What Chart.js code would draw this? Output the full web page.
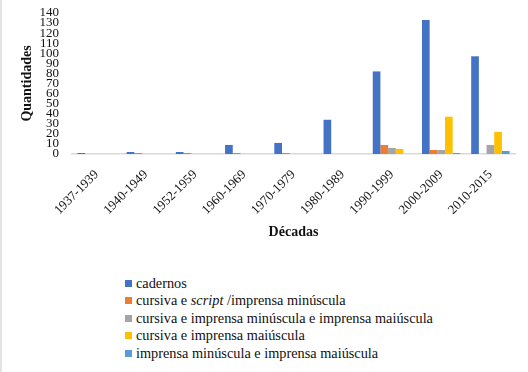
<!DOCTYPE html>
<html>
<head>
<meta charset="utf-8">
<script src="https://cdn.jsdelivr.net/npm/chart.js@4"></script>
<style>
  html, body { margin: 0; padding: 0; background: #fff; }
  #wrap { position: relative; width: 528px; height: 372px; border-left: 2px solid #e4e4e4; box-sizing: border-box; }
  #chartBox { position: absolute; left: 0; top: 0; width: 526px; height: 250px; }
  #legend { position: absolute; left: 123px; top: 275px; font: 14.3px "Liberation Serif", serif; color: #111; }
  .item { height: 17.4px; line-height: 17.4px; white-space: nowrap; }
  .swatch { display: inline-block; width: 7px; height: 7px; margin-right: 4px; vertical-align: 1px; }
</style>
</head>
<body>
<div id="wrap">
  <div id="chartBox"><canvas id="decadesChart"></canvas></div>
  <div id="legend"></div>
</div>
<script>
const decades = ['1937-1939', '1940-1949', '1952-1959', '1960-1969', '1970-1979', '1980-1989', '1990-1999', '2000-2009', '2010-2015'];

const cadernos = [1, 2, 2, 9, 11, 34, 82, 133, 97];
const cursivaScript = [0, 1, 1, 1, 1, 0, 9, 4, 0];
const cursivaMinMai = [0, 0, 0, 0, 0, 0, 6, 4, 9];
const cursivaMai = [0, 0, 0, 0, 0, 0, 5, 37, 22];
const impressaMinMai = [0, 0, 0, 0, 0, 0, 0, 1, 3];

const seriesNames = [
  'cadernos',
  'cursiva e script/imprensa minúscula',
  'cursiva e imprensa minúscula e imprensa maiúscula',
  'cursiva e imprensa maiúscula',
  'imprensa minúscula e imprensa maiúscula'
];
// legend html (script is italic in the original)
const seriesLegendHtml = [
  'cadernos',
  'cursiva e <i>script</i> /imprensa minúscula',
  'cursiva e imprensa minúscula e imprensa maiúscula',
  'cursiva e imprensa maiúscula',
  'imprensa minúscula e imprensa maiúscula'
];
const seriesColors = ['#4472C4', '#ED7D31', '#A5A5A5', '#FFC000', '#5B9BD5'];
const seriesValues = [cadernos, cursivaScript, cursivaMinMai, cursivaMai, impressaMinMai];

const yTicks = { min: 0, max: 140, step: 10 };

const serif = '"Liberation Serif", serif';

function buildDatasets() {
  return seriesNames.map((name, i) => ({
    label: name,
    data: seriesValues[i],
    backgroundColor: seriesColors[i],
    borderWidth: 0,
    categoryPercentage: 0.78,
    barPercentage: 1.0
  }));
}

function buildLegend() {
  const box = document.getElementById('legend');
  box.innerHTML = seriesLegendHtml.map((html, i) =>
    `<div class="item"><span class="swatch" style="background:${seriesColors[i]}"></span>${html}</div>`
  ).join('');
}

// keep the chart area where layout.padding puts it
function noExtraPadding(scale) {
  scale.paddingLeft = 0;
  scale.paddingRight = 0;
  scale.paddingTop = 0;
  scale.paddingBottom = 0;
}

new Chart(document.getElementById('decadesChart'), {
  type: 'bar',
  data: {
    labels: decades,
    datasets: buildDatasets()
  },
  options: {
    responsive: true,
    maintainAspectRatio: false,
    animation: false,
    layout: { padding: { left: 16.7, right: 13, top: 13, bottom: 9 } },
    plugins: {
      legend: { display: false },
      tooltip: { enabled: false }
    },
    scales: {
      x: {
        afterFit: scale => {
          noExtraPadding(scale);
          scale.height = 87; // rotated labels get more room than they use
        },
        grid: { display: false, drawTicks: false },
        border: { display: true, color: '#d9d9d9', width: 1.5 },
        ticks: {
          color: '#111',
          font: { family: serif, size: 13 },
          minRotation: 45,
          maxRotation: 45,
          padding: 13
        },
        title: {
          display: true,
          text: 'Décadas',
          color: '#111',
          font: { family: serif, size: 14, weight: 'bold' },
          padding: { top: 0, bottom: 0 }
        }
      },
      y: {
        afterFit: scale => {
          noExtraPadding(scale);
          scale.width -= scale.options.ticks.padding;
        },
        min: yTicks.min,
        max: yTicks.max,
        grid: { display: false, drawTicks: false },
        border: { display: false },
        ticks: {
          stepSize: yTicks.step,
          autoSkip: false,
          color: '#111',
          font: { family: serif, size: 13, lineHeight: 0.8 },
          padding: 13
        },
        title: {
          display: true,
          text: 'Quantidades',
          color: '#111',
          font: { family: serif, size: 14, weight: 'bold' },
          padding: { top: 0, bottom: 4 }
        }
      }
    }
  }
});

buildLegend();
</script>
</body>
</html>
